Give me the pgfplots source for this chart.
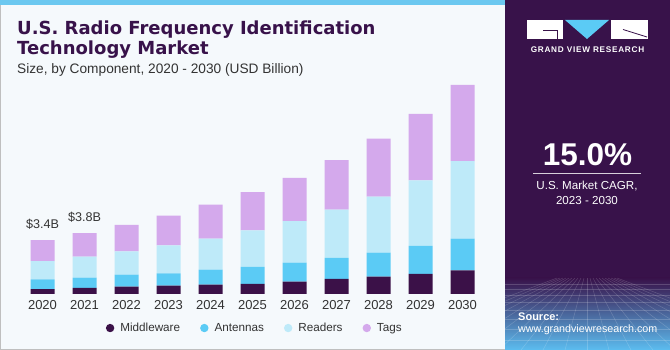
\documentclass[border=0pt]{standalone}
\usepackage{pgfplots}
\pgfplotsset{compat=1.18}
\usepackage{fontspec}
\setmainfont{Liberation Sans}
\newfontfamily\titlefont{DejaVu Sans}
\definecolor{gvpurple}{HTML}{38124A}
\definecolor{midc}{HTML}{3B1148}
\definecolor{antc}{HTML}{5BCBF5}
\definecolor{readc}{HTML}{BEEAF9}
\definecolor{tagc}{HTML}{D4A9EC}
\definecolor{bgc}{HTML}{F5F9FC}
\definecolor{stripe}{HTML}{6CC8F0}
\definecolor{txt}{HTML}{333333}
\definecolor{gmid}{HTML}{4A5AA8}
\definecolor{gbot}{HTML}{5CBDF0}

\pgfplotstableread{
x mw ant read tags
0 0.31 0.60 1.14 1.31
1 0.39 0.63 1.31 1.48
2 0.46 0.75 1.46 1.65
3 0.52 0.77 1.75 1.86
4 0.58 0.94 1.94 2.13
5 0.64 1.06 2.28 2.38
6 0.77 1.19 2.60 2.69
7 0.94 1.31 3.02 3.10
8 1.08 1.50 3.50 3.63
9 1.25 1.75 4.10 4.15
10 1.48 1.98 4.84 4.77
}\datatable

\begin{document}
\begin{tikzpicture}[x=1pt,y=1pt]
\useasboundingbox (0,0) rectangle (670,350);
% left panel
\fill[bgc] (0,0) rectangle (505,350);
\fill[stripe] (0,345) rectangle (505,350);
\draw[black!25, line width=1.2pt] (0.6,0) -- (0.6,345);
\draw[black!25, line width=1.2pt] (0,0.6) -- (505,0.6);
% right panel
\fill[gvpurple] (505,0) rectangle (670,350);
\shade[top color=gvpurple, middle color=gmid, bottom color=gbot] (505,0) rectangle (670,72);
\begin{scope}
\clip (505,0) rectangle (670,72);
\foreach \yy in {66,61,55,48,40,31,21,10} {\draw[white, opacity=0.18, line width=0.5pt] (505,\yy) -- (670,\yy);}
\foreach \k in {-10,...,10} {\draw[white, opacity=0.18, line width=0.5pt] (587+\k*3,72) -- (587+\k*22,0);}
\end{scope}
% logo
\fill[white] (527,311) rectangle (563,330);
\fill[antc] (565,330) -- (609,330) -- (587,311) -- cycle;
\fill[white] (611,311) rectangle (648,330);
\draw[gvpurple, line width=0.8pt] (543,319.5) -- (557,319.5) -- (557,311);
\draw[gvpurple, line width=0.8pt] (623,320.5) -- (647,313);
\node[text=white, font=\bfseries\fontsize{8.2}{9}\selectfont\addfontfeatures{LetterSpace=9}] at (587.5,300) {GRAND VIEW RESEARCH};
\node[anchor=base, text=white, font=\bfseries\fontsize{31.5}{34}\selectfont] at (587.5,184) {15.0\%};
\draw[white!80!gvpurple, line width=0.9pt] (533,176.7) -- (641,176.7);
\node[text=white, font=\fontsize{11.6}{13}\selectfont] at (587,164) {U.S. Market CAGR,};
\node[text=white, font=\fontsize{11.6}{13}\selectfont] at (587,149) {2023 - 2030};
\node[anchor=west, inner sep=0, text=white, font=\bfseries\fontsize{11}{12}\selectfont] at (518,33.3) {Source:};
\node[anchor=west, inner sep=0, text=white, font=\fontsize{10.7}{12}\selectfont] at (518,20) {www.grandviewresearch.com};
% titles
\node[anchor=base west, inner sep=0, text=gvpurple, font=\titlefont\bfseries\fontsize{18}{20}\selectfont] at (17,315) {U.S. Radio Frequency Identification};
\node[anchor=base west, inner sep=0, text=gvpurple, font=\titlefont\bfseries\fontsize{18}{20}\selectfont] at (17,295) {Technology Market};
\node[anchor=base west, inner sep=0, text=txt, font=\fontsize{13.7}{15}\selectfont] at (17,276.5) {Size, by Component, 2020 - 2030 (USD Billion)};

\begin{axis}[
  at={(21.5pt,56pt)}, anchor=south west,
  scale only axis, width=462pt, height=224pt,
  xmin=-0.5, xmax=10.5, ymin=0, ymax=14,
  ybar stacked, bar width=24pt,
  axis line style={draw=none},
  ytick=\empty,
  xtick={0,...,10},
  xticklabels={2020,2021,2022,2023,2024,2025,2026,2027,2028,2029,2030},
  major tick length=0pt,
  xticklabel style={font=\fontsize{13}{14}\selectfont, text=txt, yshift=-2.5pt},
  clip=false,
  legend columns=4,
  legend style={at={(0.505,-0.152)}, anchor=center, draw=none, fill=none,
    font=\fontsize{11.7}{13}\selectfont, text=txt,
    /tikz/every odd column/.append style={column sep=4pt},
    /tikz/every even column/.append style={column sep=18pt}},
]
\addplot[fill=midc, draw=none, legend image code/.code={\fill[midc] (0pt,0pt) circle (4.2pt);}] table[x=x, y=mw] {\datatable};
\addlegendentry{Middleware}
\addplot[fill=antc, draw=none, legend image code/.code={\fill[antc] (0pt,0pt) circle (4.2pt);}] table[x=x, y=ant] {\datatable};
\addlegendentry{Antennas}
\addplot[fill=readc, draw=none, legend image code/.code={\fill[readc] (0pt,0pt) circle (4.2pt);}] table[x=x, y=read] {\datatable};
\addlegendentry{Readers}
\addplot[fill=tagc, draw=none, legend image code/.code={\fill[tagc] (0pt,0pt) circle (4.2pt);}] table[x=x, y=tags] {\datatable};
\addlegendentry{Tags}
\node[anchor=base, text=txt, font=\fontsize{12.6}{14}\selectfont, yshift=11.7pt] at (axis cs:0,3.36) {\$3.4B};
\node[anchor=base, text=txt, font=\fontsize{12.6}{14}\selectfont, yshift=11.3pt] at (axis cs:1,3.81) {\$3.8B};
\end{axis}
\end{tikzpicture}
\end{document}
